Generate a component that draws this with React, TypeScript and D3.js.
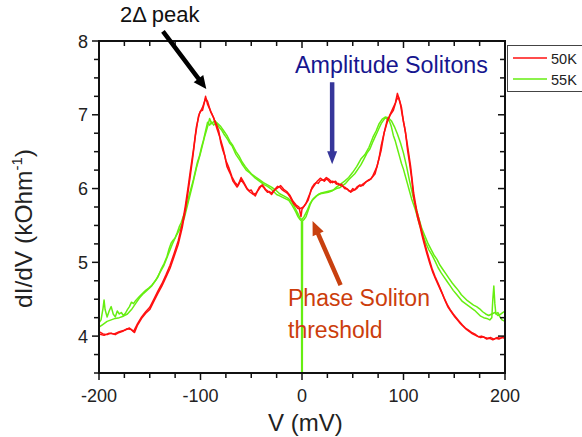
import * as d3 from "d3";

// two sweeps per temperature, [V (mV), dI/dV (kOhm^-1)]
const sweep50a: [number, number][] = [
  [-200, 4.06], [-196, 4.03], [-192, 4.02], [-188, 4.04], [-184, 4.02], [-180, 4.05], [-176, 4.07], [-172, 4.1],
  [-168, 4.09], [-165, 4.05], [-162, 4.15], [-158, 4.24], [-154, 4.31], [-150, 4.36], [-146, 4.47], [-142, 4.58],
  [-138, 4.68], [-134, 4.8], [-130, 4.92], [-126, 5.08], [-122, 5.24], [-118, 5.47], [-115, 5.7], [-112, 5.98],
  [-110, 6.18], [-108, 6.38], [-105, 6.72], [-102, 6.98], [-100, 7.05], [-98, 7.06], [-96, 7.18], [-95, 7.25],
  [-93, 7.14], [-91, 7.08], [-89, 7.02], [-86, 6.92], [-84, 6.86], [-82, 6.78], [-80, 6.62], [-78, 6.52],
  [-76, 6.44], [-74, 6.3], [-72, 6.24], [-70, 6.18], [-68, 6.1], [-66, 6.06], [-64, 6.02], [-62, 6.08],
  [-60, 6.15], [-58, 6.1], [-56, 6.05], [-54, 6.0], [-52, 5.97], [-50, 5.98], [-48, 5.93], [-46, 5.9],
  [-44, 5.96], [-42, 6.0], [-40, 6.04], [-38, 6.02], [-36, 5.98], [-34, 5.95], [-32, 5.96], [-30, 5.94],
  [-28, 5.97], [-26, 6.0], [-24, 6.03], [-22, 6.02], [-20, 5.99], [-18, 5.97], [-16, 5.95], [-14, 5.93],
  [-12, 5.89], [-10, 5.84], [-8, 5.79], [-6, 5.76], [-4, 5.73], [-2, 5.73], [0, 5.74], [2, 5.76],
  [4, 5.8], [6, 5.87], [8, 5.94], [10, 6.02], [12, 6.06], [14, 6.08], [16, 6.07], [18, 6.11],
  [20, 6.12], [22, 6.1], [24, 6.13], [26, 6.11], [28, 6.08], [30, 6.1], [32, 6.09], [34, 6.06],
  [36, 6.07], [38, 6.04], [40, 6.03], [42, 6.02], [44, 6.0], [46, 5.97], [48, 5.96], [50, 6.0],
  [52, 5.98], [54, 6.02], [56, 6.04], [58, 6.03], [60, 6.06], [62, 6.08], [64, 6.1], [66, 6.12],
  [68, 6.13], [70, 6.18], [72, 6.24], [74, 6.3], [76, 6.42], [78, 6.58], [80, 6.7], [82, 6.82],
  [84, 6.93], [86, 6.98], [88, 7.04], [90, 7.1], [92, 7.16], [94, 7.29], [96, 7.2], [98, 7.1],
  [100, 6.9], [102, 6.76], [104, 6.52], [106, 6.34], [108, 6.14], [110, 5.88], [112, 5.74], [114, 5.6],
  [116, 5.5], [118, 5.38], [120, 5.27], [123, 5.12], [126, 4.98], [129, 4.86], [132, 4.76], [135, 4.67],
  [138, 4.58], [141, 4.48], [144, 4.39], [147, 4.33], [150, 4.27], [153, 4.22], [156, 4.17], [159, 4.13],
  [162, 4.09], [165, 4.06], [168, 4.03], [171, 4.01], [174, 3.99], [177, 4.0], [180, 3.98], [183, 3.97],
  [186, 3.98], [189, 3.96], [192, 3.98], [195, 3.97], [198, 3.99], [200, 3.98],
];

const sweep50b: [number, number][] = [
  [-200, 4.03], [-195, 4.01], [-190, 4.04], [-185, 4.03], [-180, 4.06], [-175, 4.08], [-170, 4.11], [-166, 4.06],
  [-162, 4.17], [-158, 4.26], [-154, 4.33], [-150, 4.39], [-146, 4.5], [-142, 4.61], [-138, 4.71], [-134, 4.83],
  [-130, 4.96], [-126, 5.12], [-122, 5.29], [-118, 5.52], [-115, 5.76], [-112, 6.04], [-110, 6.24], [-107, 6.52],
  [-104, 6.84], [-101, 7.02], [-98, 7.1], [-95, 7.22], [-93, 7.18], [-90, 7.04], [-87, 6.96], [-84, 6.82],
  [-81, 6.7], [-78, 6.56], [-75, 6.38], [-72, 6.28], [-69, 6.16], [-66, 6.08], [-63, 6.04], [-60, 6.12],
  [-57, 6.06], [-54, 5.99], [-51, 5.95], [-48, 5.92], [-45, 5.94], [-42, 6.02], [-39, 6.05], [-36, 5.99],
  [-33, 5.96], [-30, 5.92], [-27, 5.98], [-24, 6.01], [-21, 6.04], [-18, 5.99], [-15, 5.96], [-12, 5.91],
  [-9, 5.83], [-6, 5.78], [-3, 5.75], [-1, 5.62], [0, 5.72], [3, 5.78], [6, 5.84], [9, 5.98],
  [12, 6.04], [15, 6.1], [18, 6.14], [21, 6.11], [24, 6.15], [27, 6.12], [30, 6.08], [33, 6.1],
  [36, 6.05], [39, 6.06], [42, 6.0], [45, 5.99], [48, 5.95], [51, 5.98], [54, 6.0], [57, 6.05],
  [60, 6.04], [63, 6.09], [66, 6.11], [69, 6.15], [72, 6.2], [75, 6.36], [78, 6.52], [81, 6.76],
  [84, 6.9], [87, 7.0], [90, 7.06], [93, 7.2], [95, 7.24], [97, 7.14], [99, 6.98], [101, 6.84],
  [104, 6.58], [107, 6.3], [110, 5.94], [113, 5.7], [116, 5.54], [119, 5.36], [122, 5.2], [125, 5.06],
  [128, 4.92], [131, 4.81], [134, 4.72], [137, 4.62], [140, 4.52], [143, 4.43], [146, 4.36], [149, 4.3],
  [152, 4.25], [155, 4.2], [158, 4.15], [161, 4.11], [164, 4.08], [167, 4.05], [170, 4.03], [173, 4.0],
  [176, 3.98], [179, 3.99], [182, 3.96], [185, 3.97], [188, 3.95], [191, 3.97], [194, 3.96], [197, 3.98],
  [200, 3.97],
];

const sweep55a: [number, number][] = [
  [-200, 4.18], [-198, 4.22], [-196, 4.38], [-195, 4.49], [-194, 4.36], [-192, 4.26], [-190, 4.34], [-188, 4.4],
  [-186, 4.3], [-184, 4.26], [-182, 4.34], [-180, 4.3], [-178, 4.32], [-176, 4.28], [-174, 4.31], [-172, 4.36],
  [-170, 4.4], [-168, 4.46], [-166, 4.44], [-164, 4.48], [-162, 4.51], [-160, 4.54], [-157, 4.58], [-154, 4.62],
  [-151, 4.65], [-148, 4.69], [-145, 4.74], [-142, 4.8], [-139, 4.9], [-136, 4.98], [-133, 5.08], [-131, 5.18],
  [-129, 5.26], [-127, 5.3], [-125, 5.33], [-123, 5.4], [-121, 5.48], [-119, 5.54], [-117, 5.62], [-115, 5.69],
  [-113, 5.8], [-111, 5.92], [-109, 6.02], [-107, 6.12], [-105, 6.24], [-103, 6.36], [-101, 6.44], [-99, 6.56],
  [-97, 6.66], [-95, 6.78], [-93, 6.9], [-91, 6.86], [-89, 6.9], [-87, 6.86], [-85, 6.89], [-83, 6.86],
  [-81, 6.82], [-79, 6.79], [-77, 6.74], [-75, 6.7], [-73, 6.66], [-71, 6.61], [-69, 6.58], [-67, 6.52],
  [-65, 6.46], [-63, 6.42], [-61, 6.38], [-59, 6.33], [-57, 6.29], [-55, 6.25], [-52, 6.22], [-49, 6.18],
  [-46, 6.14], [-43, 6.11], [-40, 6.08], [-37, 6.05], [-34, 6.03], [-31, 6.0], [-28, 5.96], [-25, 5.92],
  [-22, 5.9], [-19, 5.88], [-16, 5.86], [-13, 5.84], [-10, 5.78], [-8, 5.73], [-6, 5.68], [-4, 5.62],
  [-2, 5.58], [-0.5, 5.56], [0, 0], [0.5, 5.56], [2, 5.58], [4, 5.62], [6, 5.7], [8, 5.78],
  [10, 5.84], [13, 5.88], [16, 5.92], [19, 5.94], [22, 5.95], [25, 5.96], [28, 5.97], [31, 5.98],
  [34, 6.0], [37, 6.01], [40, 6.04], [43, 6.07], [46, 6.12], [49, 6.16], [52, 6.2], [55, 6.26],
  [58, 6.32], [61, 6.4], [64, 6.48], [67, 6.54], [70, 6.64], [72, 6.7], [74, 6.76], [76, 6.82],
  [78, 6.88], [80, 6.92], [82, 6.96], [84, 6.94], [86, 6.92], [88, 6.84], [90, 6.72], [92, 6.64],
  [94, 6.54], [96, 6.44], [98, 6.34], [100, 6.26], [102, 6.16], [104, 6.06], [106, 5.96], [108, 5.86],
  [110, 5.78], [112, 5.7], [114, 5.6], [116, 5.5], [119, 5.38], [122, 5.26], [125, 5.17], [128, 5.1],
  [131, 5.02], [134, 4.93], [137, 4.86], [140, 4.8], [143, 4.74], [146, 4.68], [149, 4.62], [152, 4.57],
  [155, 4.52], [158, 4.47], [161, 4.44], [164, 4.41], [167, 4.38], [170, 4.35], [173, 4.31], [176, 4.27],
  [179, 4.25], [182, 4.24], [185, 4.22], [187, 4.25], [188, 4.5], [189, 4.68], [190, 4.44], [191, 4.3],
  [193, 4.32], [195, 4.26], [197, 4.22], [200, 4.2],
];

const sweep55b: [number, number][] = [
  [-200, 4.12], [-196, 4.16], [-192, 4.2], [-188, 4.22], [-184, 4.24], [-180, 4.25], [-176, 4.27], [-172, 4.3],
  [-168, 4.36], [-164, 4.44], [-160, 4.52], [-156, 4.58], [-152, 4.63], [-148, 4.68], [-144, 4.76], [-140, 4.86],
  [-136, 4.96], [-132, 5.1], [-128, 5.24], [-124, 5.36], [-120, 5.46], [-116, 5.6], [-112, 5.82], [-108, 6.04],
  [-104, 6.28], [-100, 6.48], [-96, 6.7], [-93, 6.84], [-91, 6.95], [-89, 6.88], [-86, 6.92], [-83, 6.88],
  [-80, 6.84], [-77, 6.78], [-74, 6.72], [-71, 6.64], [-68, 6.58], [-65, 6.5], [-62, 6.44], [-59, 6.36],
  [-56, 6.3], [-53, 6.25], [-50, 6.2], [-46, 6.16], [-42, 6.12], [-38, 6.08], [-34, 6.05], [-30, 6.02],
  [-26, 5.98], [-22, 5.93], [-18, 5.9], [-14, 5.87], [-10, 5.82], [-7, 5.74], [-4, 5.66], [-2, 5.6],
  [0, 5.58], [2, 5.62], [5, 5.7], [8, 5.8], [11, 5.86], [14, 5.9], [18, 5.93], [22, 5.94],
  [26, 5.95], [30, 5.97], [34, 6.02], [38, 6.06], [42, 6.1], [46, 6.15], [50, 6.22], [54, 6.3],
  [58, 6.4], [62, 6.46], [66, 6.56], [70, 6.7], [73, 6.78], [76, 6.88], [79, 6.94], [82, 6.97],
  [85, 6.96], [88, 6.92], [91, 6.84], [94, 6.74], [97, 6.62], [100, 6.48], [103, 6.3], [106, 6.1],
  [109, 5.92], [112, 5.76], [115, 5.6], [118, 5.46], [121, 5.36], [124, 5.26], [127, 5.18], [130, 5.1],
  [133, 5.04], [136, 4.96], [139, 4.9], [142, 4.84], [145, 4.78], [148, 4.72], [151, 4.67], [154, 4.62],
  [157, 4.56], [160, 4.52], [163, 4.48], [166, 4.45], [169, 4.42], [172, 4.4], [175, 4.37], [178, 4.33],
  [181, 4.3], [184, 4.28], [187, 4.3], [190, 4.32], [193, 4.28], [196, 4.3], [200, 4.34],
];

const legendLabels = ["50K", "55K"];
const seriesColors = ["#ff1010", "#66ee11"];
const xTickValues = [-200, -100, 0, 100, 200];
const yTickValues = [4, 5, 6, 7, 8];

const font = "'Liberation Sans', Arial, sans-serif";

// block arrow polygon from tail to tip
const arrowPath = (x1: number, y1: number, x2: number, y2: number, shaft: number, headW: number, headL: number) => {
  const dx = x2 - x1;
  const dy = y2 - y1;
  const len = Math.hypot(dx, dy);
  const ux = dx / len;
  const uy = dy / len;
  const nx = -uy;
  const ny = ux;
  const bx = x2 - ux * headL;
  const by = y2 - uy * headL;
  const pts = [
    [x1 + (nx * shaft) / 2, y1 + (ny * shaft) / 2],
    [bx + (nx * shaft) / 2, by + (ny * shaft) / 2],
    [bx + (nx * headW) / 2, by + (ny * headW) / 2],
    [x2, y2],
    [bx - (nx * headW) / 2, by - (ny * headW) / 2],
    [bx - (nx * shaft) / 2, by - (ny * shaft) / 2],
    [x1 - (nx * shaft) / 2, y1 - (ny * shaft) / 2],
  ];
  return "M" + pts.map((p) => p.join(",")).join("L") + "Z";
};

const Chart = () => {
  const left = 99;
  const right = 505;
  const top = 41;
  const bottom = 373;

  const x = d3.scaleLinear().domain([-200, 200]).range([left, right]);
  const y = d3.scaleLinear().domain([3.5, 8]).range([bottom, top]);

  const line = d3
    .line<[number, number]>()
    .x((d) => x(d[0]))
    .y((d) => y(d[1]));

  const xMinor = d3.range(-200, 201, 25);
  const yMinor = d3.range(3.5, 8.01, 0.25);

  const arrow2D = arrowPath(x(-137), y(8.13), x(-94.3), y(7.35), 4.5, 12, 13);
  const arrowAmp = arrowPath(x(29.7), y(7.44), x(29.7), y(6.33), 4.5, 10, 13);
  const arrowPhase = arrowPath(x(38), y(4.69), x(10.4), y(5.56), 4.5, 12, 14);

  return (
    <svg
      width={582}
      height={437}
      style={{ position: "fixed", left: 0, top: 0, background: "#fff" }}
      fontFamily={font}
    >
      <defs>
        <clipPath id="plot">
          <rect x={left} y={top} width={right - left} height={bottom - top} />
        </clipPath>
      </defs>

      {/* curves */}
      <g clipPath="url(#plot)" fill="none" strokeWidth={1.5} strokeLinejoin="round">
        <path d={line(sweep55a) ?? ""} stroke={seriesColors[1]} />
        <path d={line(sweep55b) ?? ""} stroke={seriesColors[1]} />
        <path d={line(sweep50a) ?? ""} stroke={seriesColors[0]} />
        <path d={line(sweep50b) ?? ""} stroke={seriesColors[0]} />
      </g>

      {/* frame */}
      <rect x={left} y={top} width={right - left} height={bottom - top} fill="none" stroke="#111" strokeWidth={2} />

      {/* ticks: outward on bottom/left, inward on top/right */}
      <g stroke="#111" strokeWidth={1.5}>
        {xMinor.map((t) => {
          const major = t % 100 === 0;
          const len = major ? 7 : 5;
          return (
            <g key={"x" + t}>
              <line x1={x(t)} x2={x(t)} y1={bottom} y2={bottom + len} />
              <line x1={x(t)} x2={x(t)} y1={top} y2={top + len} />
            </g>
          );
        })}
        {yMinor.map((t) => {
          const major = Math.abs(t - Math.round(t)) < 1e-6;
          const len = major ? 7 : 5;
          return (
            <g key={"y" + t}>
              <line x1={left - len} x2={left} y1={y(t)} y2={y(t)} />
              <line x1={right - len} x2={right} y1={y(t)} y2={y(t)} />
            </g>
          );
        })}
      </g>

      {/* tick labels */}
      <g fontSize={18} fill="#222">
        {xTickValues.map((t) => (
          <text key={t} x={x(t)} y={bottom + 29} textAnchor="middle">
            {t}
          </text>
        ))}
        {yTickValues.map((t) => (
          <text key={t} x={left - 11} y={y(t) + 6.5} textAnchor="end">
            {t}
          </text>
        ))}
      </g>

      {/* axis titles */}
      <text x={268} y={431} fontSize={24} fill="#222">
        V (mV)
      </text>
      <text transform="translate(32,308) rotate(-90)" fontSize={24.5} fill="#222">
        dI/dV (kOhm
        <tspan fontSize={15} dy={-10}>
          -1
        </tspan>
        <tspan dy={10}>)</tspan>
      </text>

      {/* annotations */}
      <text x={120} y={22} fontSize={22} fill="#111">
        2Δ peak
      </text>
      <path d={arrow2D} fill="#000" />

      <text x={295} y={73} fontSize={23.3} fill="#16168f">
        Amplitude Solitons
      </text>
      <path d={arrowAmp} fill="#36369a" />

      <path d={arrowPhase} fill="#c8400f" />
      <text x={288} y={306} fontSize={23} fill="#cc3d0c">
        Phase Soliton
      </text>
      <text x={288} y={338} fontSize={23} fill="#cc3d0c">
        threshold
      </text>

      {/* legend */}
      <rect x={507.5} y={45.5} width={80} height={46} fill="#fff" stroke="#444" strokeWidth={1} />
      {legendLabels.map((label, i) => (
        <g key={label}>
          <line x1={513} x2={547} y1={58 + i * 21} y2={58 + i * 21} stroke={seriesColors[i]} strokeWidth={1.6} />
          <text x={551} y={64 + i * 21} fontSize={14.5} fill="#222">
            {label}
          </text>
        </g>
      ))}
    </svg>
  );
};

export default function App() {
  return <Chart />;
}
